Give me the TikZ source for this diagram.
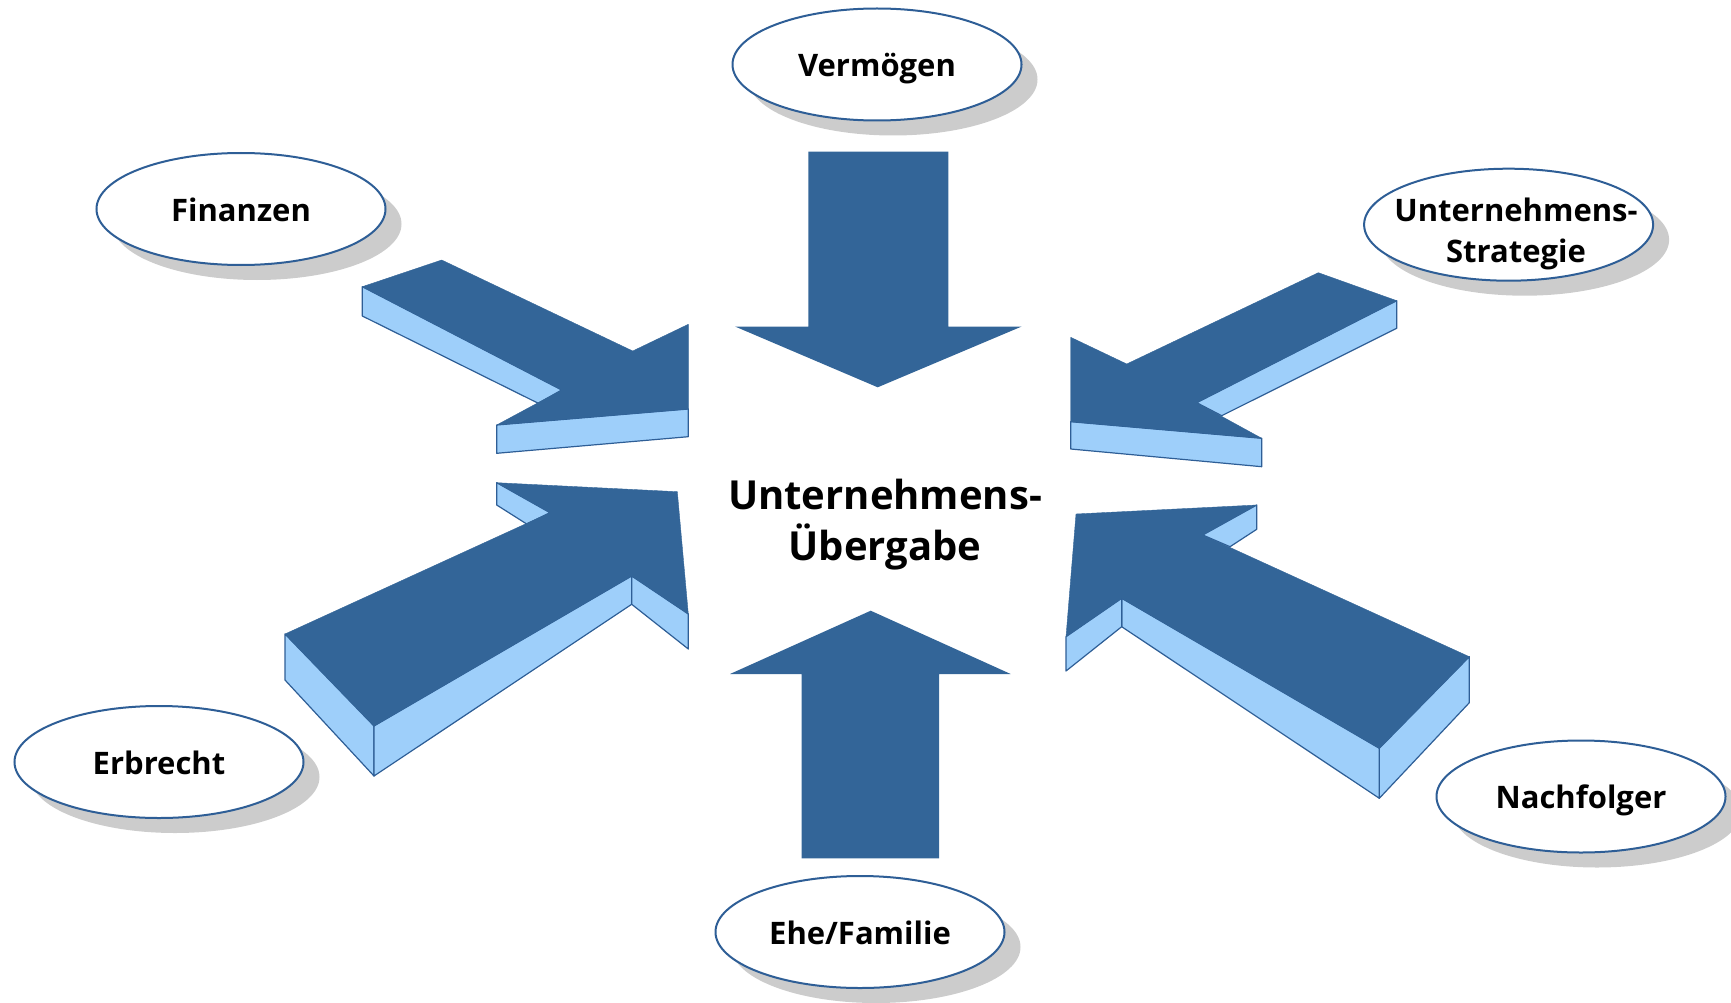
\documentclass[tikz,border=0pt]{standalone}
\usepackage{fontspec}
\setmainfont{Open Sans}
\usetikzlibrary{shapes.geometric,shadows}

\definecolor{arrowdark}{RGB}{51,101,152}
\definecolor{arrowlight}{RGB}{158,207,250}
\definecolor{edgeblue}{RGB}{46,94,150}
\definecolor{shadowgray}{RGB}{204,204,204}

\begin{document}
\begin{tikzpicture}[x=1pt,y=-1pt,
  bubble/.style={ellipse, draw=edgeblue, line width=2pt, fill=white,
    minimum width=289pt, minimum height=112pt, inner sep=0pt,
    font=\fontsize{31}{41}\selectfont\bfseries, align=center,
    text height=29pt, text depth=5pt,
    general shadow={fill=shadowgray, shadow xshift=16pt, shadow yshift=-15pt}},
  bubbletext/.style={inner sep=0pt, align=center, font=\fontsize{31}{41}\selectfont\bfseries},
  topface/.style={fill=arrowdark, draw=arrowdark, line width=0.4pt, line join=round},
  sideface/.style={fill=arrowlight, draw=edgeblue, line width=1.2pt, line join=round},
  centertext/.style={inner sep=0pt, align=center, font=\fontsize{40}{51}\selectfont\bfseries}
]
\useasboundingbox (0,0) rectangle (1731,1003);

% topic ellipses
\node[bubble] (verm) at (877,64.5) {Vermögen};
\node[bubble] (fin) at (241,209) {Finanzen};
\node[bubble] (strat) at (1508.6,224.7) {};
\node[bubbletext] (strattext) at (1516,234) {Unternehmens-\\Strategie};
\node[bubble] (erb) at (159,762) {Erbrecht};
\node[bubble] (nach) at (1581,796.5) {Nachfolger};
\node[bubble] (ehe) at (860,932) {Ehe/Familie};

% central topic
\node[centertext] (center) at (885,525) {Unternehmens-\\Übergabe};

% arrow from Vermögen (flat, pointing down)
\fill[arrowdark] (808.3,151.7) -- (948.3,151.7) -- (948.3,326.5) -- (1021.7,326.5)
  -- (877.7,387.3) -- (735,326.5) -- (808.3,326.5) -- cycle;

% arrow from Ehe/Familie (flat, pointing up)
\fill[arrowdark] (870.7,610.7) -- (1010.7,674) -- (939,674) -- (939,858.3)
  -- (801.7,858.3) -- (801.7,674) -- (730,674) -- cycle;

% arrow from Finanzen (3D, pointing right-down)
\draw[sideface] (362.3,286.7) -- (362.3,316) -- (538.3,403.3) -- (561.7,390) -- cycle;
\draw[sideface] (496.7,425) -- (688.3,409) -- (688.3,436.7) -- (496.7,453.3) -- cycle;
\draw[topface] (362.3,286.7) -- (441.7,260) -- (632.7,351) -- (688.3,324.3)
  -- (688.3,409) -- (496.7,425) -- (561.7,390) -- cycle;

% arrow from Erbrecht (3D, pointing right-up)
\draw[sideface] (285,634) -- (285,680) -- (374,776) -- (374,726) -- cycle;
\draw[sideface] (374,726) -- (374,776) -- (631.7,604.3) -- (631.7,576) -- cycle;
\draw[sideface] (631.7,576) -- (631.7,604.3) -- (688.3,649) -- (688.3,614) -- cycle;
\draw[sideface] (496.7,482.7) -- (496.7,505) -- (526.7,524) -- (550,512.7) -- cycle;
\draw[topface] (285,634) -- (550,512.7) -- (496.7,482.7) -- (677.3,491.7)
  -- (688.3,614) -- (631.7,576) -- (374,726) -- cycle;

% arrow from Unternehmens-Strategie (3D, pointing left-down)
\draw[sideface] (1396.7,300.7) -- (1396.7,328.3) -- (1221.7,415.7) -- (1196.7,402.7) -- cycle;
\draw[sideface] (1070.7,421.7) -- (1261.7,438.3) -- (1261.7,466.7) -- (1070.7,449) -- cycle;
\draw[topface] (1318.3,272.7) -- (1396.7,300.7) -- (1196.7,402.7) -- (1261.7,438.3)
  -- (1070.7,421.7) -- (1070.7,337.3) -- (1126.7,364) -- cycle;

% arrow from Nachfolger (3D, pointing left-up)
\draw[sideface] (1256.7,505) -- (1256.7,529.3) -- (1230,546.7) -- (1202.7,535) -- cycle;
\draw[sideface] (1469.3,656.7) -- (1469.3,702.7) -- (1379.3,798.3) -- (1379.3,748.3) -- cycle;
\draw[sideface] (1379.3,748.3) -- (1379.3,798.3) -- (1121.7,626.7) -- (1121.7,598.3) -- cycle;
\draw[sideface] (1121.7,598.3) -- (1121.7,626.7) -- (1066,671) -- (1066,636.7) -- cycle;
\draw[topface] (1076,514) -- (1256.7,505) -- (1202.7,535) -- (1469.3,656.7)
  -- (1379.3,748.3) -- (1121.7,598.3) -- (1066,636.7) -- cycle;
\end{tikzpicture}
\end{document}
